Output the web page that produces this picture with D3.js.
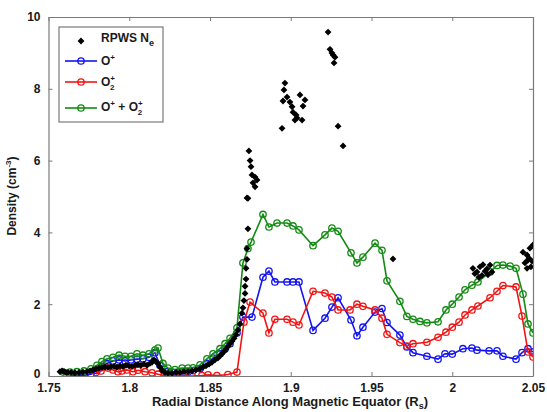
<!DOCTYPE html>
<html><head><meta charset="utf-8">
<script src="https://cdn.jsdelivr.net/npm/d3@7"></script>
<style>body{margin:0;background:#fff}svg{display:block;font-family:"Liberation Sans",Arial,sans-serif}</style>
</head><body><svg id="c" width="547" height="412"></svg>
<script>
const xTicks = [1.75, 1.8, 1.85, 1.9, 1.95, 2.0, 2.05];
const xTickLabels = ["1.75", "1.8", "1.85", "1.9", "1.95", "2", "2.05"];
const yTicks = [0, 2, 4, 6, 8, 10];

const oPlusX = [1.7633,1.7676,1.7720,1.7763,1.7800,1.7831,1.7862,1.7899,1.7937,1.7974,1.8011,1.8048,1.8085,1.8122,1.8159,1.8190,1.8228,1.8265,1.8314,1.8364,1.8395,1.8438,1.8481,1.8519,1.8562,1.8593,1.8624,1.8667,1.8704,1.8760,1.8828,1.8865,1.8902,1.8977,1.9014,1.9051,1.9138,1.9212,1.9255,1.9293,1.9373,1.9410,1.9447,1.9522,1.9565,1.9596,1.9676,1.9719,1.9757,1.9843,1.9912,1.9955,2.0000,2.0066,2.0122,2.0153,2.0228,2.0277,2.0314,2.0395,2.0432,2.0469,2.0500];
const oPlusY = [0.02,0.03,0.02,0.05,0.15,0.27,0.35,0.42,0.45,0.42,0.45,0.47,0.48,0.52,0.65,0.30,0.12,0.10,0.12,0.12,0.15,0.20,0.35,0.50,0.62,0.75,0.90,1.20,1.64,1.64,2.75,2.92,2.62,2.62,2.62,2.62,1.27,1.61,1.92,2.18,1.56,1.12,1.36,1.78,1.88,1.49,1.14,0.81,0.65,0.55,0.47,0.62,0.61,0.76,0.78,0.72,0.70,0.70,0.55,0.47,0.65,0.76,0.67];

const o2PlusX = [1.7794,1.7825,1.7868,1.7899,1.7930,1.7955,1.7986,1.8023,1.8054,1.8098,1.8141,1.8178,1.8234,1.8283,1.8333,1.8389,1.8450,1.8488,1.8543,1.8611,1.8667,1.8710,1.8748,1.8828,1.8865,1.8902,1.8977,1.9014,1.9051,1.9138,1.9212,1.9255,1.9293,1.9367,1.9410,1.9447,1.9522,1.9565,1.9596,1.9676,1.9719,1.9757,1.9843,1.9912,1.9961,2.0000,2.0042,2.0079,2.0122,2.0159,2.0234,2.0277,2.0314,2.0395,2.0432,2.0469,2.0500];
const o2PlusY = [0.10,0.14,0.22,0.17,0.12,0.14,0.17,0.12,0.16,0.12,0.09,0.05,0.00,0.01,0.01,0.00,0.01,0.03,0.01,0.04,0.11,1.50,2.06,1.75,1.20,1.58,1.58,1.50,1.42,2.36,2.31,2.20,1.84,1.84,2.00,1.94,1.84,1.61,1.16,0.93,0.83,0.90,0.94,1.08,1.22,1.36,1.50,1.70,1.84,1.95,2.18,2.36,2.52,2.48,1.67,0.67,0.53];

const sumX = [1.7590,1.7633,1.7676,1.7720,1.7763,1.7800,1.7831,1.7862,1.7899,1.7937,1.7974,1.8011,1.8048,1.8085,1.8122,1.8159,1.8178,1.8209,1.8240,1.8283,1.8327,1.8364,1.8395,1.8438,1.8481,1.8519,1.8562,1.8593,1.8624,1.8667,1.8704,1.8735,1.8754,1.8828,1.8865,1.8915,1.8977,1.9014,1.9051,1.9138,1.9212,1.9255,1.9293,1.9373,1.9410,1.9447,1.9522,1.9565,1.9596,1.9676,1.9719,1.9757,1.9800,1.9843,1.9912,1.9961,2.0000,2.0042,2.0079,2.0122,2.0159,2.0234,2.0277,2.0314,2.0358,2.0395,2.0438,2.0469,2.0500];
const sumY = [0.11,0.11,0.12,0.14,0.20,0.30,0.40,0.48,0.52,0.58,0.55,0.55,0.62,0.58,0.62,0.72,0.78,0.35,0.22,0.18,0.22,0.22,0.23,0.31,0.48,0.62,0.76,0.90,1.05,1.34,3.15,3.55,3.73,4.50,4.15,4.26,4.26,4.18,4.07,3.63,3.93,4.12,4.03,3.43,3.15,3.31,3.70,3.50,2.65,2.08,1.66,1.58,1.52,1.48,1.51,1.84,2.00,2.20,2.40,2.53,2.62,2.90,3.08,3.09,3.06,3.00,2.28,1.45,1.20];

const rpwsX = [1.7571,1.7584,1.7596,1.7608,1.7621,1.7640,1.7664,1.7689,1.7713,1.7738,1.7757,1.7776,1.7794,1.7813,1.7831,1.7850,1.7868,1.7887,1.7906,1.7924,1.7943,1.7961,1.7980,1.7998,1.8017,1.8036,1.8054,1.8073,1.8091,1.8110,1.8128,1.8141,1.8153,1.8165,1.8178,1.8190,1.8203,1.8221,1.8240,1.8265,1.8290,1.8314,1.8339,1.8364,1.8389,1.8413,1.8438,1.8457,1.8475,1.8494,1.8512,1.8531,1.8549,1.8562,1.8574,1.8587,1.8599,1.8611,1.8624,1.8636,1.8649,1.8661,1.8673,1.8686,1.8698,1.8704,1.8710,1.8717,1.8717,1.8723,1.8723,1.8729,1.8729,1.8735,1.8735,1.8729,1.8741,1.8748,1.8754,1.8760,1.8779,1.8766,1.8791,1.8779,1.8964,1.8958,1.8977,1.8952,1.8995,1.9008,1.9014,1.9033,1.9039,1.9026,1.9070,1.9057,1.9088,1.9076,1.8946,1.9231,1.9243,1.9255,1.9262,1.9274,1.9268,1.9293,1.9324,1.9633,2.0128,2.0153,2.0172,2.0184,2.0203,2.0234,2.0246,2.0140,2.0190,2.0215,2.0165,2.0221,2.0438,2.0463,2.0481,2.0500,2.0450,2.0469,2.0494,2.0463,2.0487,2.0475];
const rpwsY = [0.12,0.14,0.12,0.10,0.10,0.10,0.09,0.10,0.11,0.12,0.14,0.17,0.20,0.22,0.24,0.25,0.24,0.26,0.27,0.25,0.28,0.26,0.30,0.28,0.27,0.30,0.32,0.30,0.33,0.30,0.35,0.38,0.45,0.40,0.35,0.25,0.15,0.10,0.08,0.08,0.10,0.10,0.12,0.12,0.14,0.17,0.20,0.25,0.28,0.33,0.38,0.45,0.50,0.56,0.62,0.68,0.75,0.82,0.90,0.97,1.05,1.15,1.28,1.45,1.75,1.90,2.10,2.30,2.50,2.70,3.00,3.25,3.55,4.10,4.95,4.96,6.27,6.00,5.83,5.60,5.54,5.38,5.46,5.27,8.16,7.97,7.77,7.66,7.63,7.50,7.35,7.27,7.19,7.13,7.13,7.83,7.69,7.52,6.90,9.58,9.10,9.00,8.94,8.88,8.72,6.96,6.41,3.26,3.00,2.90,3.04,2.80,2.92,3.09,2.90,2.85,3.10,2.98,2.75,2.82,3.45,3.37,3.56,3.65,3.15,3.23,3.20,3.00,3.04,3.28];

const colors = {o: "#1414f0", o2: "#f01414", sum: "#138a13"};

const svg = d3.select("#c");
const L = 48.5, R = 533, T = 17, B = 376;
const x = d3.scaleLinear().domain([1.75, 2.05]).range([L, R]);
const y = d3.scaleLinear().domain([0, 10]).range([B, T]);

const defs = svg.append("defs");
defs.append("clipPath").attr("id", "clip").append("rect").attr("x", L).attr("y", T).attr("width", R - L).attr("height", B - T);

const axisColor = "#7a7a7a";
const gx = svg.append("g").attr("transform", `translate(0,${B})`)
  .call(d3.axisBottom(x).tickValues(xTicks).tickSizeInner(-4).tickSizeOuter(0).tickPadding(7).tickFormat((d, i) => xTickLabels[i]));
const gxt = svg.append("g").attr("transform", `translate(0,${T})`)
  .call(d3.axisTop(x).tickValues(xTicks).tickSizeInner(-4).tickSizeOuter(0).tickFormat(""));
const gy = svg.append("g").attr("transform", `translate(${L},0)`)
  .call(d3.axisLeft(y).tickValues(yTicks).tickSizeInner(-4).tickSizeOuter(0).tickPadding(8));
const gyr = svg.append("g").attr("transform", `translate(${R},0)`)
  .call(d3.axisRight(y).tickValues(yTicks).tickSizeInner(-4).tickSizeOuter(0).tickFormat(""));
[gx, gxt, gy, gyr].forEach(g => {
  g.selectAll("path").attr("stroke", axisColor).attr("stroke-width", 1.2);
  g.selectAll("line").attr("stroke", axisColor);
  g.selectAll("text").attr("fill", "#1a1a1a").attr("font-size", 12).attr("font-weight", "bold")
    .attr("font-family", '"Liberation Sans",Arial,sans-serif');
});
gy.selectAll(".tick").filter(d => d === 0).select("text").attr("dy", "0.1em");

const plot = svg.append("g").attr("clip-path", "url(#clip)");

function drawSeries(xs, ys, col) {
  const pts = xs.map((v, i) => [v, ys[i]]);
  plot.append("path").datum(pts)
    .attr("d", d3.line().x(d => x(d[0])).y(d => y(d[1])))
    .attr("fill", "none").attr("stroke", col).attr("stroke-width", 1.6);
  plot.selectAll(null).data(pts).enter().append("circle")
    .attr("cx", d => x(d[0])).attr("cy", d => y(d[1])).attr("r", 3.2)
    .attr("fill", "none").attr("stroke", col).attr("stroke-width", 1.3);
}
drawSeries(oPlusX, oPlusY, colors.o);
drawSeries(o2PlusX, o2PlusY, colors.o2);
drawSeries(sumX, sumY, colors.sum);

const diamond = "M0,-3.4L3.4,0L0,3.4L-3.4,0Z";
plot.selectAll(null).data(rpwsX.map((v, i) => [v, rpwsY[i]])).enter().append("path")
  .attr("d", diamond).attr("transform", d => `translate(${x(d[0])},${y(d[1])})`)
  .attr("fill", "#000");

const xl = svg.append("text").attr("x", 290).attr("y", 406).attr("text-anchor", "middle")
  .attr("font-size", 13).attr("font-weight", "bold").attr("fill", "#1a1a1a");
xl.append("tspan").text("Radial Distance Along Magnetic Equator (R");
xl.append("tspan").attr("font-size", 9).attr("dy", 2.5).text("s");
xl.append("tspan").attr("dy", -2.5).text(")");

const yl = svg.append("text").attr("transform", "translate(16,196) rotate(-90)").attr("text-anchor", "middle")
  .attr("font-size", 12).attr("font-weight", "bold").attr("fill", "#1a1a1a");
yl.append("tspan").text("Density (cm");
yl.append("tspan").attr("font-size", 8).attr("dy", -5).text("-3");
yl.append("tspan").attr("dy", 5).text(")");

const lg = svg.append("g");
lg.append("rect").attr("x", 59).attr("y", 27).attr("width", 104).attr("height", 95)
  .attr("fill", "#fff").attr("stroke", axisColor).attr("stroke-width", 1.2);
const legItems = [
  {type: "dot", y: 41},
  {type: "line", col: colors.o, y: 61},
  {type: "line", col: colors.o2, y: 82},
  {type: "line", col: colors.sum, y: 108}
];
legItems.forEach(it => {
  if (it.type === "dot") {
    lg.append("path").attr("d", diamond).attr("transform", `translate(81,${it.y})`).attr("fill", "#000");
  } else {
    lg.append("line").attr("x1", 65).attr("x2", 97).attr("y1", it.y).attr("y2", it.y).attr("stroke", it.col).attr("stroke-width", 1.6);
    lg.append("circle").attr("cx", 81).attr("cy", it.y).attr("r", 3.2).attr("fill", "none").attr("stroke", it.col).attr("stroke-width", 1.3);
  }
});
const tStyle = s => s.attr("font-size", 12).attr("font-weight", "bold").attr("fill", "#1a1a1a");
let t = tStyle(lg.append("text").attr("x", 101).attr("y", 42));
t.append("tspan").text("RPWS N");
t.append("tspan").attr("font-size", 9).attr("dy", 4).text("e");
t = tStyle(lg.append("text").attr("x", 101).attr("y", 65));
t.append("tspan").text("O");
t.append("tspan").attr("font-size", 8).attr("dy", -5).text("+");
t = tStyle(lg.append("text").attr("x", 101).attr("y", 86));
t.append("tspan").text("O");
t.append("tspan").attr("font-size", 8).attr("dy", -5).text("+");
t.append("tspan").attr("font-size", 8).attr("dx", -5).attr("dy", 9).text("2");
t = tStyle(lg.append("text").attr("x", 101).attr("y", 111));
t.append("tspan").text("O");
t.append("tspan").attr("font-size", 8).attr("dy", -5).text("+");
t.append("tspan").attr("dy", 5).text(" + O");
t.append("tspan").attr("font-size", 8).attr("dy", -5).text("+");
t.append("tspan").attr("font-size", 8).attr("dx", -5).attr("dy", 9).text("2");
</script></body></html>
